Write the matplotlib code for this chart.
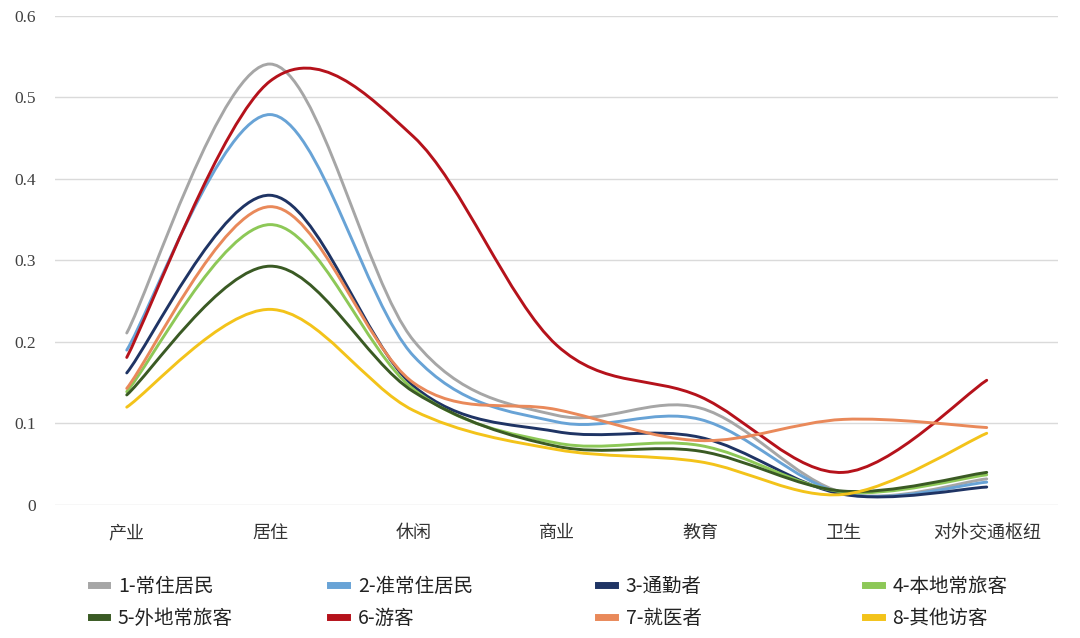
import numpy as np
import matplotlib
matplotlib.use('Agg')
import matplotlib.pyplot as plt
from matplotlib.path import Path
from matplotlib.patches import PathPatch
from matplotlib.lines import Line2D

plt.rcParams['font.family'] = ['Noto Sans CJK SC', 'DejaVu Sans']

# data
categories = ['产业', '居住', '休闲', '商业', '教育', '卫生', '对外交通枢纽']
names = ['1-常住居民', '2-准常住居民', '3-通勤者', '4-本地常旅客',
         '5-外地常旅客', '6-游客', '7-就医者', '8-其他访客']
s1 = [0.211, 0.541, 0.202, 0.110, 0.119, 0.015, 0.032]
s2 = [0.190, 0.479, 0.183, 0.102, 0.105, 0.014, 0.028]
s3 = [0.162, 0.380, 0.146, 0.090, 0.083, 0.013, 0.022]
s4 = [0.139, 0.344, 0.142, 0.076, 0.073, 0.016, 0.037]
s5 = [0.135, 0.293, 0.139, 0.072, 0.066, 0.017, 0.040]
s6 = [0.181, 0.520, 0.452, 0.196, 0.133, 0.040, 0.153]
s7 = [0.143, 0.366, 0.150, 0.117, 0.079, 0.105, 0.095]
s8 = [0.120, 0.240, 0.116, 0.068, 0.053, 0.013, 0.088]
series = [s1, s2, s3, s4, s5, s6, s7, s8]
colors = ['#A6A6A6', '#68A3D6', '#1F3464', '#8DC857',
          '#3A5A24', '#B5121B', '#E9895A', '#F3C31A']

fig = plt.figure(figsize=(10.8, 6.38), dpi=100)
ax = fig.add_axes([0.051, 0.2085, 0.929, 0.7665])


def smooth_path(xs, ys):
    # Excel-like smoothed line: cubic Bezier segments through the points
    n = len(xs)
    verts = [(xs[0], ys[0])]
    codes = [Path.MOVETO]
    for i in range(n - 1):
        xp, yp = (xs[i - 1], ys[i - 1]) if i > 0 else (xs[i], ys[i])
        xn, yn = (xs[i + 2], ys[i + 2]) if i + 2 < n else (xs[i + 1], ys[i + 1])
        c1 = (xs[i] + (xs[i + 1] - xp) / 6, ys[i] + (ys[i + 1] - yp) / 6)
        c2 = (xs[i + 1] - (xn - xs[i]) / 6, ys[i + 1] - (yn - ys[i]) / 6)
        verts += [c1, c2, (xs[i + 1], ys[i + 1])]
        codes += [Path.CURVE4] * 3
    return Path(verts, codes)


x = np.arange(len(categories))
for s, c in zip(series, colors):
    ax.add_patch(PathPatch(smooth_path(x, s), fill=False, edgecolor=c,
                           lw=2.1, capstyle='round'))

ax.set_xlim(-0.5, len(categories) - 0.5)
ax.set_ylim(0, 0.6)
ax.set_yticks([0, 0.1, 0.2, 0.3, 0.4, 0.5, 0.6])
ax.set_yticklabels(['0', '0.1', '0.2', '0.3', '0.4', '0.5', '0.6'])
for lab in ax.get_yticklabels():
    lab.set_fontfamily('Liberation Serif')
    lab.set_fontsize(12.5)
    lab.set_color('#404040')
ax.set_xticks(x)
ax.set_xticklabels(categories, fontsize=13, color='#333333')
ax.tick_params(length=0, axis='y', pad=14)
ax.tick_params(length=0, axis='x', pad=14)
ax.grid(axis='y', color='#DADADA', lw=1)
ax.set_axisbelow(True)
for sp in ax.spines.values():
    sp.set_visible(False)

# legend: 4 columns x 2 rows
handles = [Line2D([], [], color=c, lw=5) for c in colors]
col_x = [0.075, 0.297, 0.545, 0.792]
for j in range(4):
    fig.legend([handles[j], handles[j + 4]], [names[j], names[j + 4]],
               loc='upper left', bbox_to_anchor=(col_x[j], 0.112),
               frameon=False, fontsize=14, handlelength=0.85,
               handletextpad=0.55, labelspacing=0.55, borderpad=0,
               labelcolor='#222222')

fig.savefig('out.png', dpi=100, facecolor='white')
